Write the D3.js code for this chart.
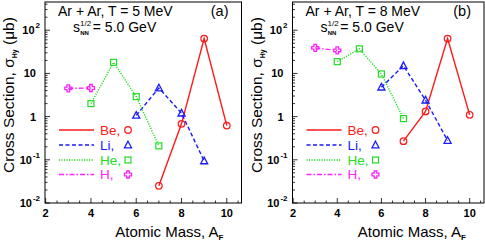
<!DOCTYPE html>
<html>
<head>
<meta charset="utf-8">
<script src="https://cdn.jsdelivr.net/npm/d3@7"></script>
<style>
  body { margin: 0; background: #fff; }
  svg { display: block; font-family: "Liberation Sans", Arial, sans-serif; }
</style>
</head>
<body>
<div id="chart"></div>
<script>
var width = 485, height = 242;

// data (cross sections in micro-barn)
var beA = [7, 8, 9, 10];
var liA = [6, 7, 8, 9];
var heA = [4, 5, 6, 7];
var hA = [3, 4];

var panelA_Be = [0.025, 0.68, 64, 0.62];
var panelA_Li = [1.07, 4.6, 1.2, 0.094];
var panelA_He = [2.0, 18, 2.9, 0.21];
var panelA_H = [4.5, 4.6];

var panelB_Be = [0.27, 1.32, 64, 1.1];
var panelB_Li = [4.8, 15, 2.4, 0.28];
var panelB_He = [18.7, 37, 9.7, 0.9];
var panelB_H = [39, 34];

var xTicks = [2, 4, 6, 8, 10];
var yTicks = [0.01, 0.1, 1, 10, 100];
var yTickLabels = [["10", "-2"], ["10", "-1"], ["1", ""], ["10", ""], ["10", "2"]];
var legendNames = ["Be,", "Li,", "He,", "H,"];

var series = [
    { name: "Be", color: "#ff1a1a", dash: null, marker: "circle" },
    { name: "Li", color: "#1a1aff", dash: "4,2.5", marker: "triangle" },
    { name: "He", color: "#22dd22", dash: "1.2,1.3", marker: "square" },
    { name: "H", color: "#ff22ff", dash: "5,2,1.5,2", marker: "cross" }
];

var svg = d3.select("#chart").append("svg")
    .attr("width", width)
    .attr("height", height);

// draw one marker shape centred at 0,0
function drawMarker(g, type, color) {
    if (type == "circle") {
        g.append("circle").attr("r", 3.3).attr("fill", "none").attr("stroke", color).attr("stroke-width", 1.2);
    } else if (type == "square") {
        g.append("rect").attr("x", -3).attr("y", -3).attr("width", 6).attr("height", 6)
            .attr("fill", "none").attr("stroke", color).attr("stroke-width", 1.2);
    } else if (type == "triangle") {
        g.append("path").attr("d", "M0,-3.8L3.5,2.8L-3.5,2.8Z")
            .attr("fill", "none").attr("stroke", color).attr("stroke-width", 1.3);
    } else {
        g.append("path").attr("d", "M-1.3,-3.5H1.3V-1.3H3.5V1.3H1.3V3.5H-1.3V1.3H-3.5V-1.3H-1.3Z")
            .attr("fill", "none").attr("stroke", color).attr("stroke-width", 1.3);
    }
}

function drawPanel(left, right, title, tag, values) {
    var top = 2, bottom = 203;
    var x = d3.scaleLinear().domain([1.97, 10.65]).range([left, right]);
    var y = d3.scaleLog().domain([0.01, 450]).range([bottom, top]);

    var g = svg.append("g");

    // ticks on x axis (inside)
    var xMinor = d3.range(2, 10.6, 0.5);
    g.selectAll(".xt").data(xMinor).join("line")
        .attr("x1", d => x(d)).attr("x2", d => x(d))
        .attr("y1", bottom).attr("y2", d => bottom - (d % 2 == 0 ? 5 : 2.5))
        .attr("stroke", "#000").attr("stroke-width", 0.8);

    g.selectAll(".xl").data(xTicks).join("text")
        .attr("x", d => x(d)).attr("y", 217)
        .attr("text-anchor", "middle")
        .attr("font-size", 11).attr("font-weight", "bold")
        .text(d => d);

    // ticks on y axis (inside)
    var yMinor = [];
    [0.01, 0.1, 1, 10, 100].forEach(function(dec) {
        for (var k = 1; k < 10; k++) {
            var v = dec * k;
            if (v <= 450) yMinor.push(v);
        }
    });
    g.selectAll(".yt").data(yMinor).join("line")
        .attr("x1", left).attr("x2", (d, i) => left + (i % 9 == 0 ? 5 : 2.5))
        .attr("y1", d => y(d)).attr("y2", d => y(d))
        .attr("stroke", "#000").attr("stroke-width", 0.8);

    var yl = g.selectAll(".yl").data(yTicks).join("text")
        .attr("x", (d, i) => yTickLabels[i][1] ? left - 5 : left - 9)
        .attr("y", d => y(d) + 4)
        .attr("text-anchor", "end")
        .attr("font-size", 11).attr("font-weight", "bold");
    yl.append("tspan").text((d, i) => yTickLabels[i][0]);
    yl.append("tspan")
        .attr("dy", -6).attr("font-size", 8).attr("dx", 1)
        .text((d, i) => yTickLabels[i][1]);

    // frame
    g.append("rect")
        .attr("x", left).attr("y", top)
        .attr("width", right - left).attr("height", bottom - top)
        .attr("fill", "none").attr("stroke", "#000").attr("stroke-width", 1);

    // series
    var xs = [beA, liA, heA, hA];
    series.forEach(function(s, si) {
        var pts = xs[si].map((a, i) => [a, values[si][i]]);
        var line = d3.line().x(d => x(d[0])).y(d => y(d[1]));
        g.append("path")
            .attr("d", line(pts))
            .attr("fill", "none")
            .attr("stroke", s.color)
            .attr("stroke-width", 1.4)
            .attr("stroke-dasharray", s.dash);
        pts.forEach(function(p) {
            var m = g.append("g").attr("transform", "translate(" + x(p[0]) + "," + y(p[1]) + ")");
            drawMarker(m, s.marker, s.color);
        });
    });

    // legend
    var legY = [130, 145, 160, 174.5];
    series.forEach(function(s, si) {
        g.append("line")
            .attr("x1", left + 14).attr("x2", left + 49)
            .attr("y1", legY[si]).attr("y2", legY[si])
            .attr("stroke", s.color).attr("stroke-width", 1.4)
            .attr("stroke-dasharray", s.dash);
        g.append("text")
            .attr("x", left + 55).attr("y", legY[si] + 4.5)
            .attr("font-size", 13.5).attr("fill", s.color)
            .text(legendNames[si]);
        var m = g.append("g").attr("transform", "translate(" + (left + 83) + "," + legY[si] + ")");
        drawMarker(m, s.marker, s.color);
    });

    // titles inside the frame
    g.append("text")
        .attr("x", left + 13).attr("y", 16)
        .attr("font-size", 14)
        .text(title);
    var st = g.append("text")
        .attr("x", left + 28).attr("y", 32)
        .attr("font-size", 14);
    st.append("tspan").text("s");
    st.append("tspan").attr("font-size", 8).attr("dy", -6).text("1/2");
    st.append("tspan").attr("font-size", 6).attr("font-weight", "bold").attr("dx", -11).attr("dy", 9).text("NN");
    st.append("tspan").attr("dx", 4).attr("dy", -3).text("= 5.0 GeV");

    g.append("text")
        .attr("x", right - 13).attr("y", 16)
        .attr("text-anchor", "end")
        .attr("font-size", 14.5)
        .text(tag);

    // axis titles
    var xt = g.append("text")
        .attr("x", right - 18).attr("y", 237)
        .attr("text-anchor", "end")
        .attr("font-size", 15);
    xt.append("tspan").text("Atomic Mass, A");
    xt.append("tspan").attr("font-size", 8).attr("font-weight", "bold").attr("dy", 3).text("F");

    var yt = g.append("text")
        .attr("transform", "translate(" + (left - 31) + ",95) rotate(-90)")
        .attr("text-anchor", "middle")
        .attr("font-size", 15.5);
    yt.append("tspan").text("Cross Section, \u03c3");
    yt.append("tspan").attr("font-size", 7).attr("font-weight", "bold").attr("dy", 3).text("Hy");
    yt.append("tspan").attr("dy", -3).text(" (\u03bcb)");
}

drawPanel(45, 241.5, "Ar + Ar, T = 5 MeV", "(a)", [panelA_Be, panelA_Li, panelA_He, panelA_H]);
drawPanel(292.5, 484, "Ar + Ar, T = 8 MeV", "(b)", [panelB_Be, panelB_Li, panelB_He, panelB_H]);
</script>
</body>
</html>
